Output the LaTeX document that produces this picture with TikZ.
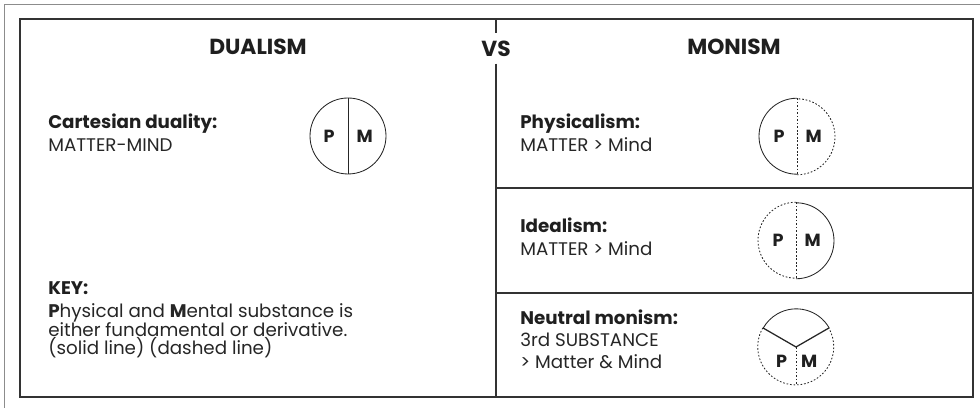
\documentclass[tikz,border=0pt]{standalone}
\usepackage{fontspec}
\setmainfont{Poppins}
\usepackage{tikz}
\usetikzlibrary{calc}

\begin{document}
\begin{tikzpicture}[scale = 1]

\tikzstyle{frame_out}=[draw=black!45, line width = 0.9]
\tikzstyle{frame_in}=[draw=black!80, line width = 0.8]
\tikzstyle{title_t}=[font=\fontsize{15.5}{18}\selectfont\bfseries, text=black!88]
\tikzstyle{text_h}=[anchor=base west, inner sep = 0, font=\fontsize{13}{15}\selectfont\bfseries, text=black!88]
\tikzstyle{text_b}=[anchor=base west, inner sep = 0, font=\fontsize{13}{15}\selectfont, text=black!85]
\tikzstyle{pm_circ}=[circle, minimum size = 1.9cm, inner sep = 0]
\tikzstyle{half_s}=[line width = 0.6, color = black!85]
\tikzstyle{half_d}=[line width = 0.6, color = black!85, dash pattern = on 1.2pt off 1.3pt]
\tikzstyle{pm}=[font=\fontsize{12.5}{14}\selectfont\bfseries, text=black!88]

\useasboundingbox (0, 0) rectangle (24.5, 10.2);

\coordinate (O1) at (0.1125, 0);
\coordinate (O2) at (0.1125, 10.0875);
\coordinate (O3) at (24.5, 10.0875);
\coordinate (B1) at (0.5, 0.275);
\coordinate (B2) at (24.325, 9.725);
\coordinate (Vt) at (12.4, 9.725);
\coordinate (Vb) at (12.4, 0.275);
\coordinate (H1l) at (12.4, 5.5);
\coordinate (H1r) at (24.325, 5.5);
\coordinate (H2l) at (12.4, 2.875);
\coordinate (H2r) at (24.325, 2.875);
\coordinate (D) at (8.7, 6.8);
\coordinate (Ph) at (19.925, 6.7875);
\coordinate (Id) at (19.9, 4.1875);
\coordinate (Ne) at (19.9, 1.525);
\coordinate (L) at (1.2, 0);
\coordinate (R) at (13.0, 0);

% frames
\draw[frame_out] (O1) -- (O2) -- (O3);
\draw[frame_in] (B1) rectangle (B2);
\draw[frame_in] (H1l) -- (H1r);
\draw[frame_in] (H2l) -- (H2r);

\path
(6.45, 8.825) node[title_t, anchor = base](dualism) {DUALISM}
(12.4, 8.99) node[title_t, minimum height = 0.75cm, inner sep = 0](vs) {VS}
(18.35, 8.825) node[title_t, anchor = base](monism) {MONISM}
($(L) + (0, 6.975)$) node[text_h](cart1) {Cartesian duality:}
($(L) + (0, 6.4)$) node[text_b](cart2) {MATTER-MIND}
($(R) + (0, 6.975)$) node[text_h](phys1) {Physicalism:}
($(R) + (0, 6.4)$) node[text_b](phys2) {MATTER > Mind}
($(R) + (0, 4.375)$) node[text_h](ideal1) {Idealism:}
($(R) + (0, 3.8)$) node[text_b](ideal2) {MATTER > Mind}
($(R) + (0, 2.075)$) node[text_h](neut1) {Neutral monism:}
($(R) + (0, 1.525)$) node[text_b](neut2) {3rd SUBSTANCE}
($(R) + (0, 0.975)$) node[text_b](neut3) {> Matter \& Mind}
($(L) + (0, 2.825)$) node[text_h](key1) {KEY:}
($(L) + (0, 2.25)$) node[text_b](key2) {\textbf{P}hysical and \textbf{M}ental substance is}
($(L) + (0, 1.775)$) node[text_b](key3) {either fundamental or derivative.}
($(L) + (0, 1.325)$) node[text_b](key4) {(solid line) (dashed line)};

\draw[frame_in] (Vt) -- (vs.north);
\draw[frame_in] (vs.south) -- (Vb);

% circles
\path
(D) node[pm_circ](dual) {}
(Ph) node[pm_circ](phys) {}
(Id) node[pm_circ](ideal) {}
(Ne) node[pm_circ](neut) {}
($(D) + (-0.47, 0)$) node[pm](dual_p) {P}
($(D) + (0.42, 0)$) node[pm](dual_m) {M}
($(Ph) + (-0.45, 0)$) node[pm](phys_p) {P}
($(Ph) + (0.42, 0)$) node[pm](phys_m) {M}
($(Id) + (-0.45, 0)$) node[pm](ideal_p) {P}
($(Id) + (0.42, 0)$) node[pm](ideal_m) {M}
($(Ne) + (-0.36, -0.35)$) node[pm](neut_p) {P}
($(Ne) + (0.33, -0.35)$) node[pm](neut_m) {M};

% cartesian: both solid
\draw[half_s] (dual) circle (0.95);
\draw[half_s] (dual.north) -- (dual.south);

% physicalism: P solid, M dashed
\draw[half_s] (phys.north) arc (90:270:0.95);
\draw[half_d] (phys.south) arc (-90:90:0.95);
\draw[half_d] (phys.north) -- (phys.south);

% idealism: P dashed, M solid
\draw[half_d] (ideal.north) arc (90:270:0.95);
\draw[half_s] (ideal.south) arc (-90:90:0.95);
\draw[half_d] (ideal.north) -- (ideal.south);

% neutral monism: third part solid
\draw[half_s] (neut.30) arc (30:150:0.95);
\draw[half_d] (neut.150) arc (150:390:0.95);
\draw[half_s, line width = 0.9] (neut.150) -- (neut.center) -- (neut.30);
\draw[half_d] (neut.center) -- (neut.south);

\end{tikzpicture}
\end{document}
